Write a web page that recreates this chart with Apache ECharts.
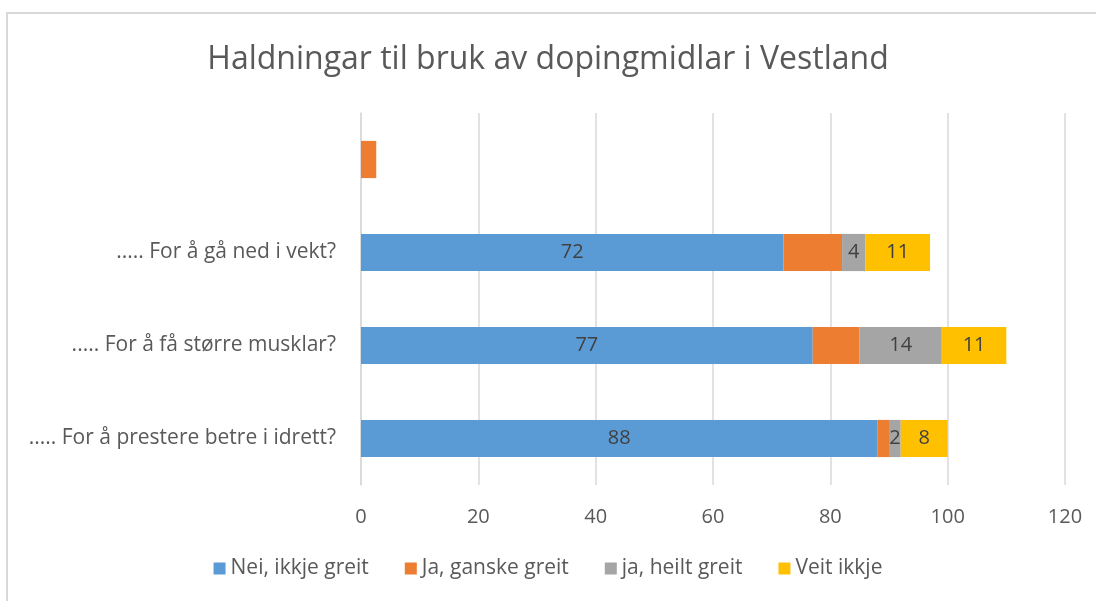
<!DOCTYPE html>
<html>
<head>
<meta charset="utf-8">
<script src="https://cdn.jsdelivr.net/npm/echarts@6/dist/echarts.min.js"></script>
<style>
  html, body { margin: 0; padding: 0; background: #fff; }
  #main { width: 1096px; height: 601px; }
</style>
</head>
<body>
<div id="main"></div>
<script>
// questions, bottom to top as drawn
const questions = [
  '..... For å prestere betre i idrett?',
  '..... For å få større musklar?',
  '..... For å gå ned i vekt?',
  ''
]
const seriesNames = ['Nei, ikkje greit', 'Ja, ganske greit', 'ja, heilt greit', 'Veit ikkje']
const neiIkkje = [88, 77, 72, null]
const jaGanske = [2, 8, 10, 2.6]
const jaHeilt = [2, 14, 4, null]
const veitIkkje = [8, 11, 11, null]
const colors = ['#5B9BD5', '#ED7D31', '#A5A5A5', '#FFC000']

const font = '"Open Sans", "Noto Sans", sans-serif'
const txt = '#595959'

const makeSeries = (name, data, color, showLabel) => ({
  name: name,
  type: 'bar',
  stack: 'total',
  data: data,
  barWidth: '40%',
  itemStyle: { color: color },
  label: {
    show: showLabel,
    position: 'inside',
    color: '#404040',
    fontSize: 20,
    fontFamily: font
  },
  emphasis: { disabled: true }
})

const chart = echarts.init(document.getElementById('main'))
chart.setOption({
  animation: false,
  color: colors,
  title: {
    text: 'Haldningar til bruk av dopingmidlar i Vestland',
    left: 'center',
    top: 39,
    textStyle: { fontSize: 32, fontWeight: 'normal', color: txt, fontFamily: font }
  },
  graphic: [{
    type: 'rect',
    shape: { x: 7, y: 13, width: 1200, height: 700 },
    style: { fill: 'none', stroke: '#d9d9d9', lineWidth: 2 },
    silent: true
  }],
  legend: {
    bottom: 17,
    left: 'center',
    itemWidth: 12,
    itemHeight: 12,
    itemGap: 36,
    icon: 'rect',
    textStyle: { fontSize: 21, color: txt, fontFamily: font },
    data: seriesNames
  },
  grid: { left: 361, right: 31, top: 113, bottom: 116 },
  xAxis: {
    type: 'value',
    min: 0,
    max: 120,
    interval: 20,
    axisLine: { show: false },
    axisTick: { show: false },
    splitLine: { lineStyle: { color: '#d9d9d9', width: 1.5 } },
    axisLabel: { fontSize: 20, color: txt, fontFamily: font, margin: 22 }
  },
  yAxis: {
    type: 'category',
    data: questions,
    axisLine: { lineStyle: { color: '#d9d9d9', width: 1.5 } },
    axisTick: { length: 8, lineStyle: { color: '#d9d9d9', width: 1.5 } },
    axisLabel: { fontSize: 21, color: txt, fontFamily: font, margin: 25 }
  },
  series: [
    makeSeries(seriesNames[0], neiIkkje, colors[0], true),
    makeSeries(seriesNames[1], jaGanske, colors[1], false),
    makeSeries(seriesNames[2], jaHeilt, colors[2], true),
    makeSeries(seriesNames[3], veitIkkje, colors[3], true)
  ]
})
</script>
</body>
</html>
